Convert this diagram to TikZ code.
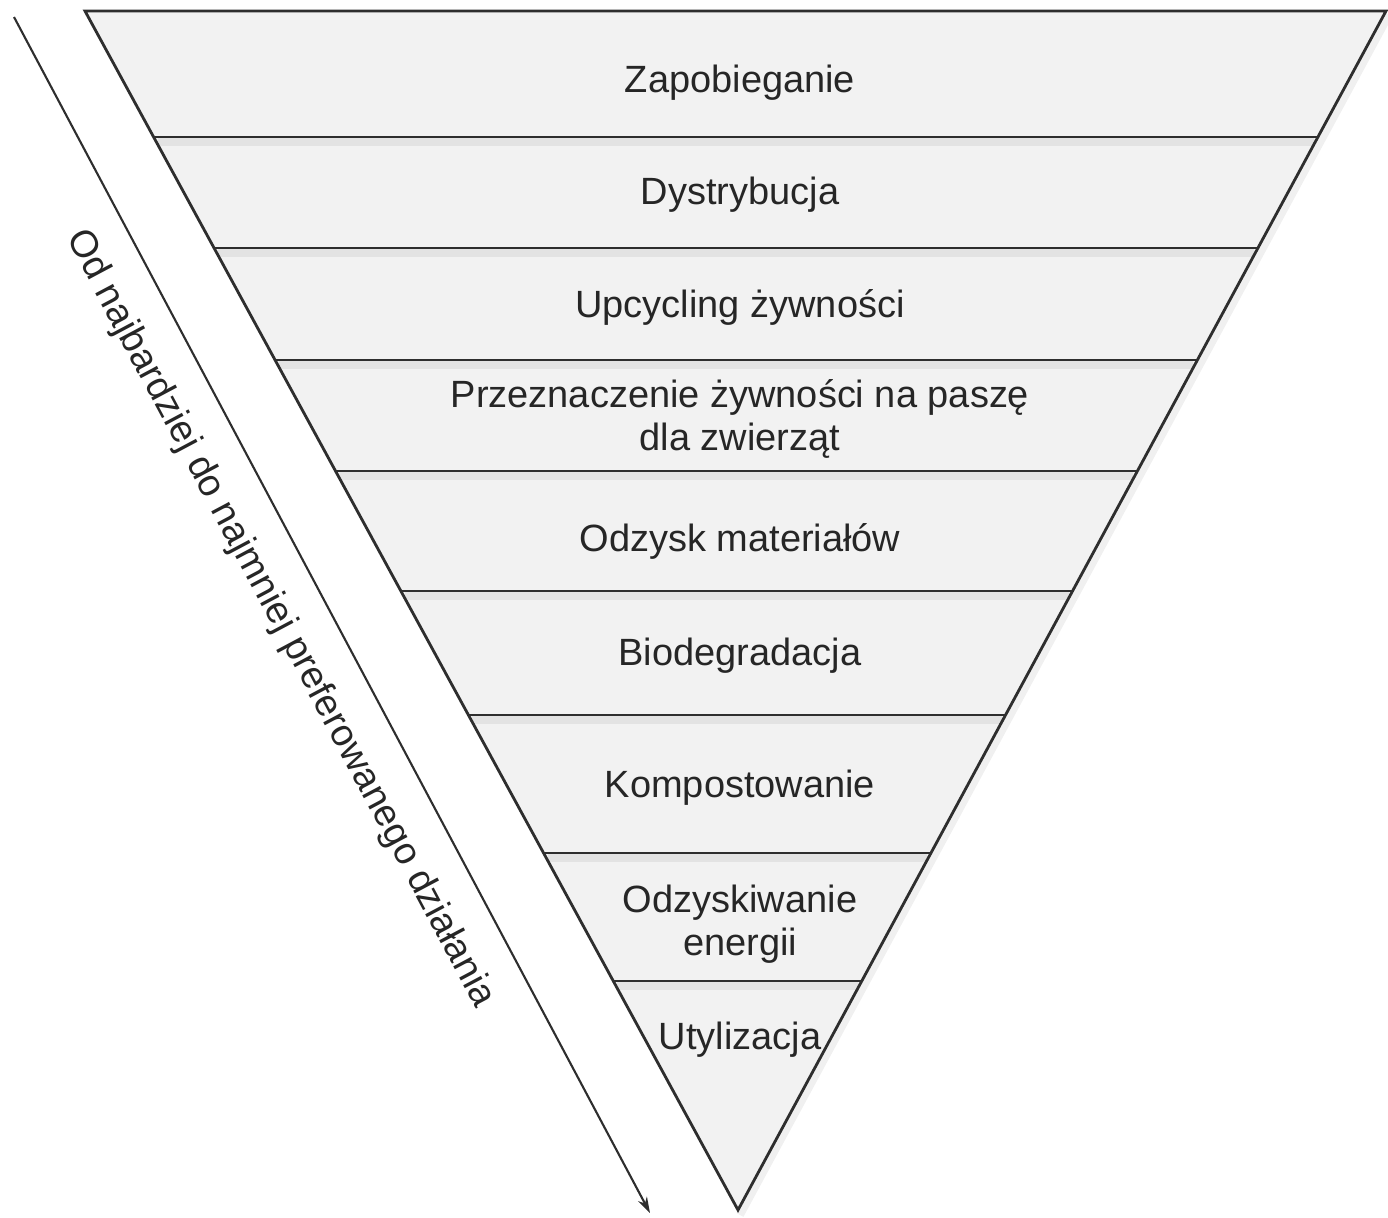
\documentclass[tikz,border=0pt]{standalone}
\usepackage{fontspec}
\setmainfont{Liberation Sans}
\usetikzlibrary{calc,arrows.meta}
\definecolor{bandfill}{HTML}{F2F2F2}
\definecolor{edgegray}{HTML}{2E2E2E}
\definecolor{textgray}{HTML}{262626}
\begin{document}
\begin{tikzpicture}[x=0.01cm, y=-0.01cm, font=\fontsize{10.8}{12.4}\selectfont]
\tikzset{
  level/.style={align=center, text=textgray, inner sep=0pt},
  sep/.style={draw=edgegray, line width=0.8pt},
  sepshade/.style={draw=black, opacity=0.06, line width=2.2pt}
}
\useasboundingbox (0,0) rectangle (1388,1217);
\coordinate (TL) at (85,11);
\coordinate (TR) at (1386,11);
\coordinate (A) at (738,1210);
\fill[bandfill] (TL) -- (TR) -- (A) -- cycle;
% dividing lines between the levels
\foreach \t [count=\i] in {0.1051,0.1977,0.2911,0.3837,0.4837,0.5872,0.7023,0.8090}{
  \coordinate (L\i) at ($(TL)!\t!(A)$);
  \coordinate (R\i) at ($(TR)!\t!(A)$);
  \draw[sepshade] ($(L\i)+(4,5)$) -- ($(R\i)+(-4,5)$);
  \draw[sep] (L\i) -- (R\i);
}
\draw[sepshade] ($(TR)+(3,4)$) -- ($(A)+(2,5)$);
\draw[sep, line join=miter] (TL) -- (TR) -- (A) -- cycle;
% levels
\node[level] (zap) at (740,83) {Zapobieganie};
\node[level] (dys) at (740,195) {Dystrybucja};
\node[level] (upc) at (740,307) {Upcycling żywności};
\node[level] (pas) at (740,419) {Przeznaczenie żywności na paszę\\dla zwierząt};
\node[level] (mat) at (740,541) {Odzysk materiałów};
\node[level] (bio) at (740,656) {Biodegradacja};
\node[level] (kom) at (740,788) {Kompostowanie};
\node[level] (ene) at (740,924) {Odzyskiwanie\\energii};
\node[level] (uty) at (740,1040) {Utylizacja};
% direction arrow
\coordinate (S) at (14,17);
\coordinate (E) at (650,1213);
\draw[edgegray, line width=0.6pt, -{Stealth[length=0.16cm, width=0.1cm]}] (S) -- (E);
\node[level, rotate=-62] (dir) at (280,619) {Od najbardziej do najmniej preferowanego działania};
\end{tikzpicture}
\end{document}
